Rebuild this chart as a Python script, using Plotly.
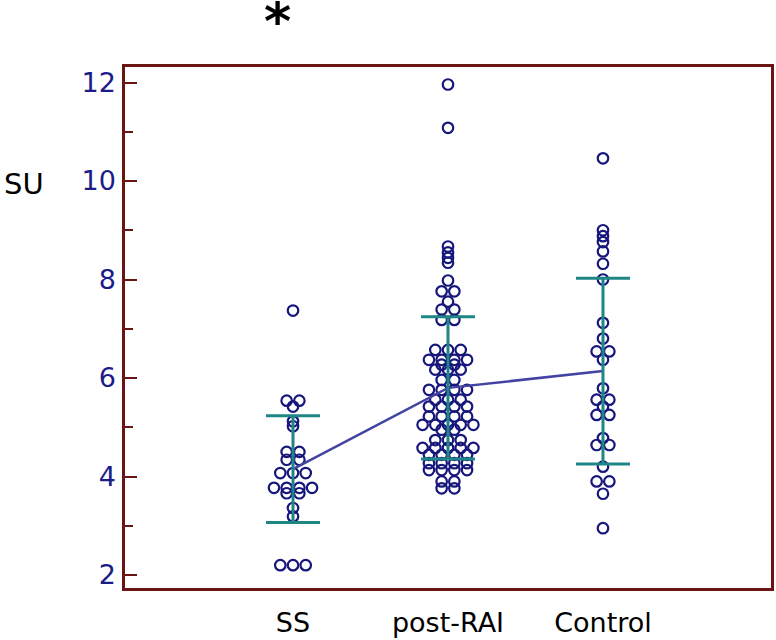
import plotly.graph_objects as go

# ---------------- data ----------------
categories = ["SS", "post-RAI", "Control"]

ss_values = [7.37, 5.54, 5.54, 5.42, 5.12, 5.02, 4.50, 4.50, 4.34, 4.34,
             4.07, 4.07, 4.07, 3.77, 3.77, 3.77, 3.77, 3.66, 3.66, 3.36,
             3.19, 2.20, 2.20, 2.20]

post_rai_values = [11.96, 11.08, 8.67, 8.55, 8.44, 8.34, 7.98, 7.76, 7.76, 7.55,
                   7.39, 7.39, 7.18, 7.18,
                   6.57, 6.57, 6.57,
                   6.37, 6.37, 6.37, 6.37,
                   6.27, 6.27,
                   6.17, 6.17, 6.17,
                   5.96, 5.96,
                   5.76, 5.76, 5.76, 5.76,
                   5.56, 5.56, 5.56,
                   5.42, 5.42, 5.42, 5.42,
                   5.22, 5.22, 5.22, 5.22,
                   5.05, 5.05, 5.05, 5.05, 5.05,
                   4.95, 4.95,
                   4.74, 4.74, 4.74,
                   4.58, 4.58, 4.58, 4.58, 4.58,
                   4.44, 4.44, 4.44, 4.44,
                   4.27, 4.27, 4.27, 4.27,
                   4.13, 4.13, 4.13, 4.13,
                   3.90, 3.90,
                   3.76, 3.76]

control_values = [10.46, 9.00, 8.88, 8.76, 8.57, 8.32, 8.00, 7.12, 6.80, 6.54,
                  6.54, 6.37, 5.79, 5.56, 5.56, 5.42, 5.25, 5.25, 4.78, 4.64,
                  4.64, 4.20, 3.90, 3.90, 3.65, 2.95]

group_means = [4.15, 5.80, 6.14]
group_sds = [1.085, 1.445, 1.885]

y_tick_values = [2, 4, 6, 8, 10, 12]

# ---------------- layout constants ----------------
W, H = 776, 640
ML, MR, MT, MB = 125, 5, 67, 52
X_RANGE = [-1.084, 3.084]
Y_RANGE = [1.736, 12.315]
plot_w = W - ML - MR
plot_h = H - MT - MB
px_per_x = plot_w / (X_RANGE[1] - X_RANGE[0])
DOT_PX = 12.7  # horizontal spacing between dots of equal value

NAVY = "#16167c"
TEAL = "#1f8585"
MEAN_LINE = "#4343a3"
FRAME = "#6b1414"
TICKFONT = "#1c1c88"


def dot_positions(values, center):
    """Spread equal values horizontally, centred on the category (dot plot)."""
    counts = {}
    for v in values:
        counts[v] = counts.get(v, 0) + 1
    seen = {}
    xs = []
    for v in values:
        i = seen.get(v, 0)
        seen[v] = i + 1
        n = counts[v]
        off_px = (i - (n - 1) / 2) * DOT_PX
        xs.append(center + off_px / px_per_x)
    return xs


fig = go.Figure()

for idx, vals in enumerate([ss_values, post_rai_values, control_values]):
    fig.add_trace(go.Scatter(
        x=dot_positions(vals, idx), y=vals, mode="markers",
        marker=dict(symbol="circle-open", size=10.5, color=NAVY,
                    line=dict(width=2.2, color=NAVY)),
        showlegend=False, hoverinfo="y"))

# mean line
fig.add_trace(go.Scatter(
    x=list(range(len(categories))), y=group_means, mode="lines",
    line=dict(color=MEAN_LINE, width=2.5), showlegend=False, hoverinfo="skip"))

# mean +/- SD bars
fig.add_trace(go.Scatter(
    x=list(range(len(categories))), y=group_means, mode="markers",
    marker=dict(size=1, color="rgba(0,0,0,0)"),
    error_y=dict(type="data", array=group_sds, visible=True,
                 color=TEAL, thickness=3, width=27),
    showlegend=False, hoverinfo="skip"))

fig.update_layout(
    width=W, height=H,
    margin=dict(l=ML, r=MR, t=MT, b=MB, pad=0, autoexpand=False),
    paper_bgcolor="white", plot_bgcolor="white",
    font=dict(family="DejaVu Sans", color="black"),
    xaxis=dict(range=X_RANGE, tickvals=list(range(len(categories))),
               ticktext=categories, ticks="", showgrid=False, zeroline=False,
               showline=True, linecolor=FRAME, linewidth=2.5, mirror=True,
               tickfont=dict(size=27, color="black", family="DejaVu Sans"),
               ticklabelstandoff=9, automargin=False),
    yaxis=dict(range=Y_RANGE, tickvals=y_tick_values, ticks="inside",
               ticklen=12, tickwidth=2, tickcolor=FRAME,
               showgrid=False, zeroline=False,
               showline=True, linecolor=FRAME, linewidth=2.5, mirror=True,
               tickfont=dict(size=27, color=TICKFONT, family="DejaVu Sans"),
               ticklabelstandoff=1, automargin=False,
               minor=dict(ticks="inside", ticklen=8, tickwidth=2,
                          tickcolor=FRAME, dtick=1, tick0=1, showgrid=False)),
    annotations=[
        dict(text="SU", xref="paper", yref="paper",
             x=(2 - ML) / plot_w, y=(H - MB - 184) / plot_h,
             xanchor="left", yanchor="middle", showarrow=False,
             font=dict(size=29, color="black", family="DejaVu Sans")),
        dict(text="<b>*</b>", xref="paper", yref="paper",
             x=(277 - ML) / plot_w, y=(H - MB - 21) / plot_h,
             xanchor="center", yanchor="middle", showarrow=False,
             font=dict(size=52, color="black", family="DejaVu Sans")),
    ],
)

fig.write_html("out.html",
               config={"displayModeBar": False},
               post_script="document.body.style.margin='0';"
                           "document.body.style.overflow='hidden';")
